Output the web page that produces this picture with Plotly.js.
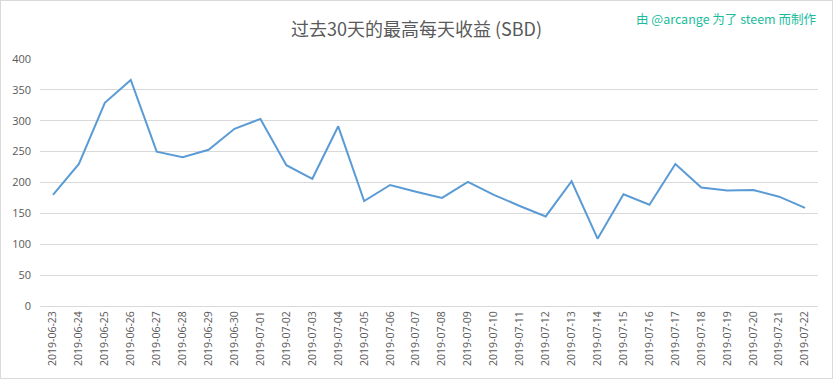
<!DOCTYPE html>
<html>
<head>
<meta charset="utf-8">
<script src="https://cdn.plot.ly/plotly-3.0.1.min.js"></script>
<style>
html,body{margin:0;padding:0;background:#fff;}
#wrap{width:831px;height:377px;border:1px solid #d9d9d9;}
#chart{width:831px;height:377px;}
</style>
</head>
<body>
<div id="wrap"><div id="chart"></div></div>
<script>
const dates = ["2019-06-23","2019-06-24","2019-06-25","2019-06-26","2019-06-27","2019-06-28","2019-06-29","2019-06-30","2019-07-01","2019-07-02","2019-07-03","2019-07-04","2019-07-05","2019-07-06","2019-07-07","2019-07-08","2019-07-09","2019-07-10","2019-07-11","2019-07-12","2019-07-13","2019-07-14","2019-07-15","2019-07-16","2019-07-17","2019-07-18","2019-07-19","2019-07-20","2019-07-21","2019-07-22"];
const values = [180,230,329,366,250,241,253,287,303,228,206,291,170,196,185,175,201,180,162,145,202,109,181,164,230,192,187,188,177,159];
const yTicks = [0,50,100,150,200,250,300,350,400];
const titleText = "过去30天的最高每天收益 (SBD)";
const creditText = "由 @arcange 为了 steem 而制作";

const trace = {
  x: dates, y: values, type: "scatter", mode: "lines",
  line: {color: "#5b9bd5", width: 2}, hoverinfo: "x+y"
};
const layout = {
  width: 831, height: 377,
  margin: {l: 39, r: 14, t: 58, b: 72},
  paper_bgcolor: "#fff", plot_bgcolor: "#fff",
  showlegend: false,
  font: {family: "Open Sans, Noto Sans CJK SC, sans-serif", color: "#595959"},
  title: {text: titleText, x: 0.5, xanchor: "center", y: 0.925, yanchor: "middle",
          font: {family: "Noto Sans CJK SC, sans-serif", size: 18, color: "#595959"}},
  xaxis: {type: "category", range: [-0.5, 29.5], tickangle: -90, showgrid: false,
          showline: true, linecolor: "#d9d9d9", linewidth: 1, ticks: "",
          tickfont: {size: 10.5, color: "#595959"}, fixedrange: true},
  yaxis: {range: [0, 400], tickvals: yTicks, showgrid: true, gridcolor: "#d9d9d9", gridwidth: 1,
          zeroline: false, showline: false, ticks: "", ticklabelstandoff: 8,
          tickfont: {size: 11, color: "#595959"}, fixedrange: true},
  annotations: [{text: creditText, xref: "paper", yref: "paper", x: 1.0, y: 1.0,
                 yshift: 41, xanchor: "right", yanchor: "middle", showarrow: false,
                 font: {family: "Noto Sans CJK SC, sans-serif", size: 12.5, color: "#1abc9c"}}]
};
Plotly.newPlot("chart", [trace], layout, {displayModeBar: false, staticPlot: true});
</script>
</body>
</html>
